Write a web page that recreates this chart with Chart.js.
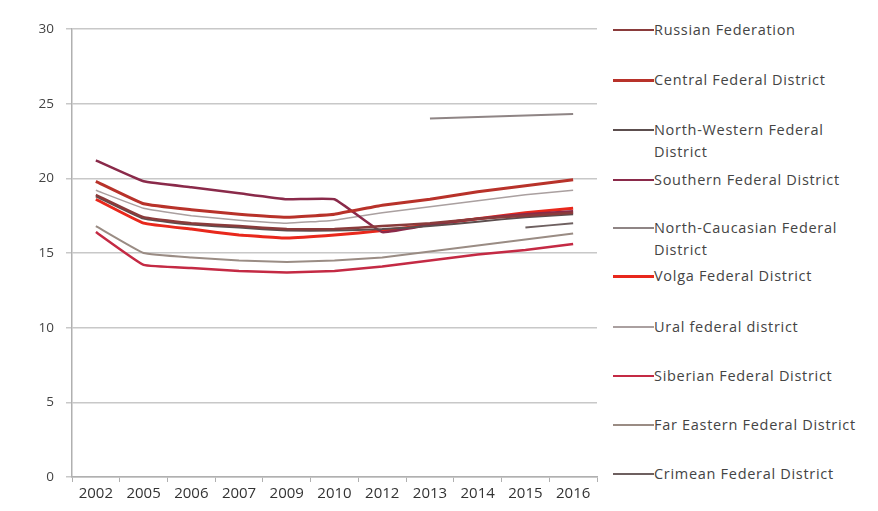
<!DOCTYPE html>
<html>
<head>
<meta charset="utf-8">
<script src="https://cdn.jsdelivr.net/npm/chart.js@4/dist/chart.umd.min.js"></script>
<style>
  html,body{margin:0;padding:0;background:#fff;}
  #wrap{position:relative;width:878px;height:511px;}
  #holder{position:absolute;left:0;top:0;width:605px;height:511px;}
  #legend{position:absolute;left:613px;top:0;width:265px;font-family:"Open Sans",sans-serif;font-size:14.5px;color:#444;}
  .item{position:absolute;left:0;display:flex;align-items:flex-start;}
  .swatch{width:41px;height:0;margin-top:10px;flex:none;}
  .lbl{line-height:22px;width:212px;letter-spacing:0.7px;}
</style>
</head>
<body>
<div id="wrap">
  <div id="holder"><canvas id="grafico"></canvas></div>
  <div id="legend"></div>
</div>
<script>
const anos = ["2002","2005","2006","2007","2009","2010","2012","2013","2014","2015","2016"];
const yTicks = [0,5,10,15,20,25,30];

const nomes = ["Russian Federation","Central Federal District","North-Western Federal District","Southern Federal District",
  "North-Caucasian Federal District","Volga Federal District","Ural federal district","Siberian Federal District",
  "Far Eastern Federal District","Crimean Federal District"];
const cores = ["#8a3b3b","#b8322a","#5c4e4e","#8a2a4a","#8f8585","#e8281c","#aaa0a0","#c42a44","#9a8c84","#6e6060"];
const espessuras = [2.5,3,2,2.5,2,3,1.5,2.5,2,2];

const russia     = [18.9,17.4,17.0,16.8,16.6,16.6,16.8,17.0,17.3,17.5,17.7];
const central    = [19.8,18.3,17.9,17.6,17.4,17.6,18.2,18.6,19.1,19.5,19.9];
const noroeste   = [18.8,17.3,16.9,16.7,16.5,16.5,16.6,16.8,17.1,17.4,17.6];
const sul        = [21.2,19.8,19.4,19.0,18.6,18.6,16.4,16.9,17.3,17.6,17.8];
const caucaso    = [null,null,null,null,null,null,null,24.0,24.1,24.2,24.3];
const volga      = [18.6,17.0,16.6,16.2,16.0,16.2,16.5,16.9,17.3,17.7,18.0];
const ural       = [19.2,18.0,17.5,17.2,17.0,17.2,17.7,18.1,18.5,18.9,19.2];
const siberia    = [16.4,14.2,14.0,13.8,13.7,13.8,14.1,14.5,14.9,15.2,15.6];
const extremo    = [16.8,15.0,14.7,14.5,14.4,14.5,14.7,15.1,15.5,15.9,16.3];
const crimeia    = [null,null,null,null,null,null,null,null,null,16.7,17.0];

const series = [russia,central,noroeste,sul,caucaso,volga,ural,siberia,extremo,crimeia];
const legendaY = [19,69,119,169,217,265,316,365,414,463];

document.addEventListener("DOMContentLoaded", ()=>{ desenhar(); });

function desenhar(){
    const canvas = document.getElementById("grafico");
    canvas.width = 605; canvas.height = 511;
    const ctx = canvas.getContext("2d");
    new Chart(ctx,{
        type:'line',
        data:{
            labels: anos,
            datasets: series.map((s,i)=>({
                label: nomes[i], data: s, borderColor: cores[i], backgroundColor: cores[i],
                borderWidth: espessuras[i], pointRadius:0, tension:0.1, spanGaps:false
            }))
        },
        options:{
            responsive:false, animation:false,
            layout:{padding:{top:29,right:8,left:0,bottom:0}},
            plugins:{legend:{display:false}, tooltip:{enabled:false}},
            scales:{
                x:{
                    offset:true,
                    grid:{offset:true, drawOnChartArea:false, drawTicks:true, tickLength:5, color:'#b0b0b0'},
                    border:{display:true, color:'#b0b0b0', width:1.5},
                    ticks:{color:'#333', font:{family:'Open Sans', size:15}, padding:3, maxRotation:0, autoSkip:false},
                    afterFit(a){ a.height = 34; }
                },
                y:{
                    min:0, max:30,
                    afterBuildTicks(a){ a.ticks = yTicks.map(v=>({value:v})); },
                    grid:{color:'#c8c8c8', lineWidth:1.5, tickLength:6},
                    border:{display:true, color:'#b0b0b0', width:1.5},
                    ticks:{color:'#444', font:{family:'Open Sans', size:13.5}, padding:12},
                    afterFit(a){ a.width = 72; }
                }
            }
        }
    });

    const leg = document.getElementById("legend");
    nomes.forEach((n,i)=>{
        const d = document.createElement("div");
        d.className = "item";
        d.style.top = legendaY[i] + "px";
        d.innerHTML = `<div class="swatch" style="border-top:${Math.max(2,espessuras[i])}px solid ${cores[i]}"></div><div class="lbl">${n}</div>`;
        leg.appendChild(d);
    });
}
</script>
</body>
</html>
